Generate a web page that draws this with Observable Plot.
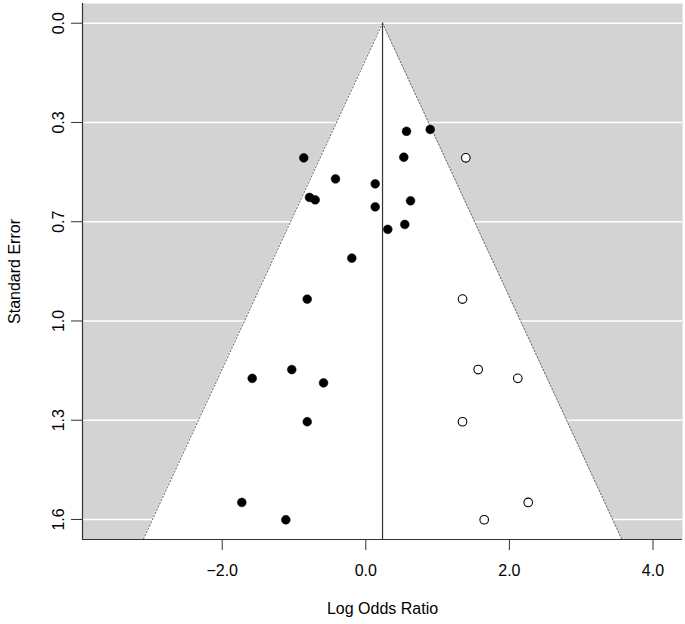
<!DOCTYPE html>
<html>
<head>
<meta charset="utf-8">
<script src="https://cdn.jsdelivr.net/npm/d3@7"></script>
<script src="https://cdn.jsdelivr.net/npm/@observablehq/plot@0.6"></script>
<style>
  html, body { margin: 0; padding: 0; background: #fff; }
  #chart svg { display: block; }
</style>
</head>
<body>
<div id="chart"></div>
<script>
// Observed studies (filled) — log odds ratio and standard error
const obsLOR = [0.567, 0.897, -0.864, 0.529, -0.422, 0.131, -0.784, -0.705, 0.623, 0.131,
                0.543, 0.306, -0.195, -0.816, -1.582, -1.031, -0.589, -0.816, -1.727, -1.114];
const obsSE  = [0.356, 0.350, 0.4435, 0.4415, 0.513, 0.529, 0.574, 0.582, 0.585, 0.605,
                0.663, 0.679, 0.774, 0.909, 1.170, 1.141, 1.185, 1.313, 1.579, 1.636];
// Imputed studies (open, trim-and-fill)
const fillLOR = [1.393, 1.347, 1.565, 2.117, 1.347, 2.262, 1.649];
const fillSE  = [0.4435, 0.909, 1.141, 1.170, 1.313, 1.579, 1.636];
// Pooled estimate
const estimate = 0.233;
// Axis ticks and labels
const xTicks = [-2, 0, 2, 4];
const xLabels = ["\u22122.0", "0.0", "2.0", "4.0"];
const yTicks = [0, 0.327, 0.654, 0.981, 1.308, 1.635];
const yLabels = ["0.0", "0.3", "0.7", "1.0", "1.3", "1.6"];

const xDomain = [-3.946, 4.411];
const yDomain = [-0.065, 1.701];

const observed = obsLOR.map((v, i) => ({lor: v, se: obsSE[i]}));
const filled = fillLOR.map((v, i) => ({lor: v, se: fillSE[i]}));
const tri = [0, yDomain[1]];
const xLab = new Map(xTicks.map((t, i) => [t, xLabels[i]]));
const yLab = new Map(yTicks.map((t, i) => [t, yLabels[i]]));

const chart = Plot.plot({
  width: 685,
  height: 624,
  marginLeft: 82,
  marginRight: 3,
  marginTop: 3,
  marginBottom: 85,
  style: {fontFamily: "'Liberation Sans', Arial, sans-serif", fontSize: "16px", color: "#000", background: "#fff"},
  x: {domain: xDomain},
  y: {domain: yDomain, reverse: true},
  marks: [
    Plot.frame({fill: "#d3d3d3", stroke: null}),
    Plot.gridY(yTicks, {stroke: "#fff", strokeOpacity: 1, strokeWidth: 1.6}),
    Plot.areaX(tri, {y: d => d, x1: d => estimate - 1.96 * d, x2: d => estimate + 1.96 * d, fill: "#fff"}),
    Plot.line(tri, {x: d => estimate - 1.96 * d, y: d => d, stroke: "#666", strokeDasharray: "1.5,2", strokeWidth: 1}),
    Plot.line(tri, {x: d => estimate + 1.96 * d, y: d => d, stroke: "#666", strokeDasharray: "1.5,2", strokeWidth: 1}),
    Plot.ruleX([estimate], {y1: 0, y2: yDomain[1], stroke: "#333", strokeWidth: 1.2}),
    Plot.ruleY([yDomain[1]], {stroke: "#333", strokeWidth: 1.2}),
    Plot.ruleX([xDomain[0]], {stroke: "#333", strokeWidth: 1.2}),
    Plot.dot(observed, {x: "lor", y: "se", r: 4.4, fill: "#000", stroke: "#000", strokeWidth: 0.5}),
    Plot.dot(filled, {x: "lor", y: "se", r: 4.3, fill: "#fff", stroke: "#000", strokeWidth: 1.1}),
    Plot.axisX(xTicks, {tickFormat: d => xLab.get(d), tickSize: 11, tickPadding: 14, label: null, fontSize: 16, stroke: "#333"}),
    Plot.axisY(yTicks, {tickFormat: d => yLab.get(d), tickRotate: -90, tickSize: 11, tickPadding: 8, label: null, fontSize: 16, stroke: "#333"}),
    Plot.text(["Log Odds Ratio"], {frameAnchor: "bottom", dy: 69, fontSize: 16, textAnchor: "middle", lineAnchor: "middle"}),
    Plot.text(["Standard Error"], {frameAnchor: "left", dx: -68, rotate: -90, fontSize: 16, textAnchor: "middle", lineAnchor: "middle"})
  ]
});
document.getElementById("chart").appendChild(chart);
</script>
</body>
</html>
